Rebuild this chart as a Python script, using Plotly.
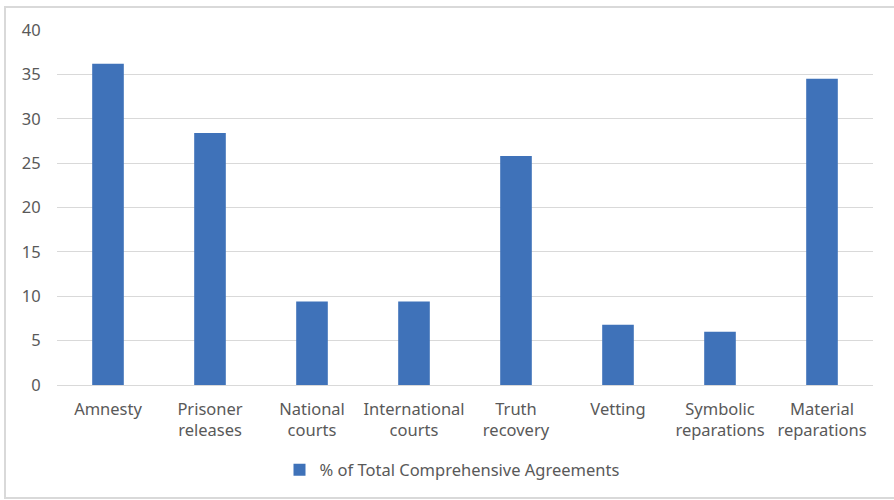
import plotly.graph_objects as go

categories = ["Amnesty", "Prisoner<br>releases", "National<br>courts", "International<br>courts",
              "Truth<br>recovery", "Vetting", "Symbolic<br>reparations", "Material<br>reparations"]
values = [36.2, 28.4, 9.4, 9.4, 25.8, 6.8, 6.0, 34.5]
series_name = "% of Total Comprehensive Agreements"
y_ticks = [0, 5, 10, 15, 20, 25, 30, 35, 40]

W, H = 894, 500
L, R, T, B = 57, 21, 30, 115
pw, ph = W - L - R, H - T - B

fig = go.Figure()
fig.add_trace(go.Bar(x=categories, y=values, name=series_name,
                     marker=dict(color="#3F72B9", line=dict(width=0)),
                     showlegend=True))

def px_x(p):
    return (p - L) / pw

def px_y(p):
    return (H - B - p) / ph

fig.add_shape(type="rect", xref="paper", yref="paper",
              x0=px_x(5), x1=px_x(900), y0=px_y(498), y1=px_y(7),
              line=dict(color="#D9D9D9", width=2), layer="below")

fig.update_layout(
    width=W, height=H,
    margin=dict(l=L, r=R, t=T, b=B),
    plot_bgcolor="white", paper_bgcolor="white",
    font=dict(family="Noto Sans", size=16.5, color="#595959"),
    bargap=0.69,
    xaxis=dict(showgrid=False, showline=True, linecolor="#D9D9D9", linewidth=1,
               ticks="", ticklabelstandoff=9, tickfont=dict(size=16.5, color="#595959")),
    yaxis=dict(range=[0, 40], tickvals=y_ticks, showgrid=True, gridcolor="#D9D9D9",
               gridwidth=1, zeroline=False, showline=False, ticks="outside",
               ticklen=12, tickcolor="white", tickfont=dict(size=16.5, color="#595959")),
    legend=dict(orientation="h", x=px_x(452), xanchor="center", y=px_y(470), yanchor="middle",
                font=dict(size=16.5, color="#595959"), itemwidth=30),
    showlegend=True,
)

fig.write_html("out.html")
